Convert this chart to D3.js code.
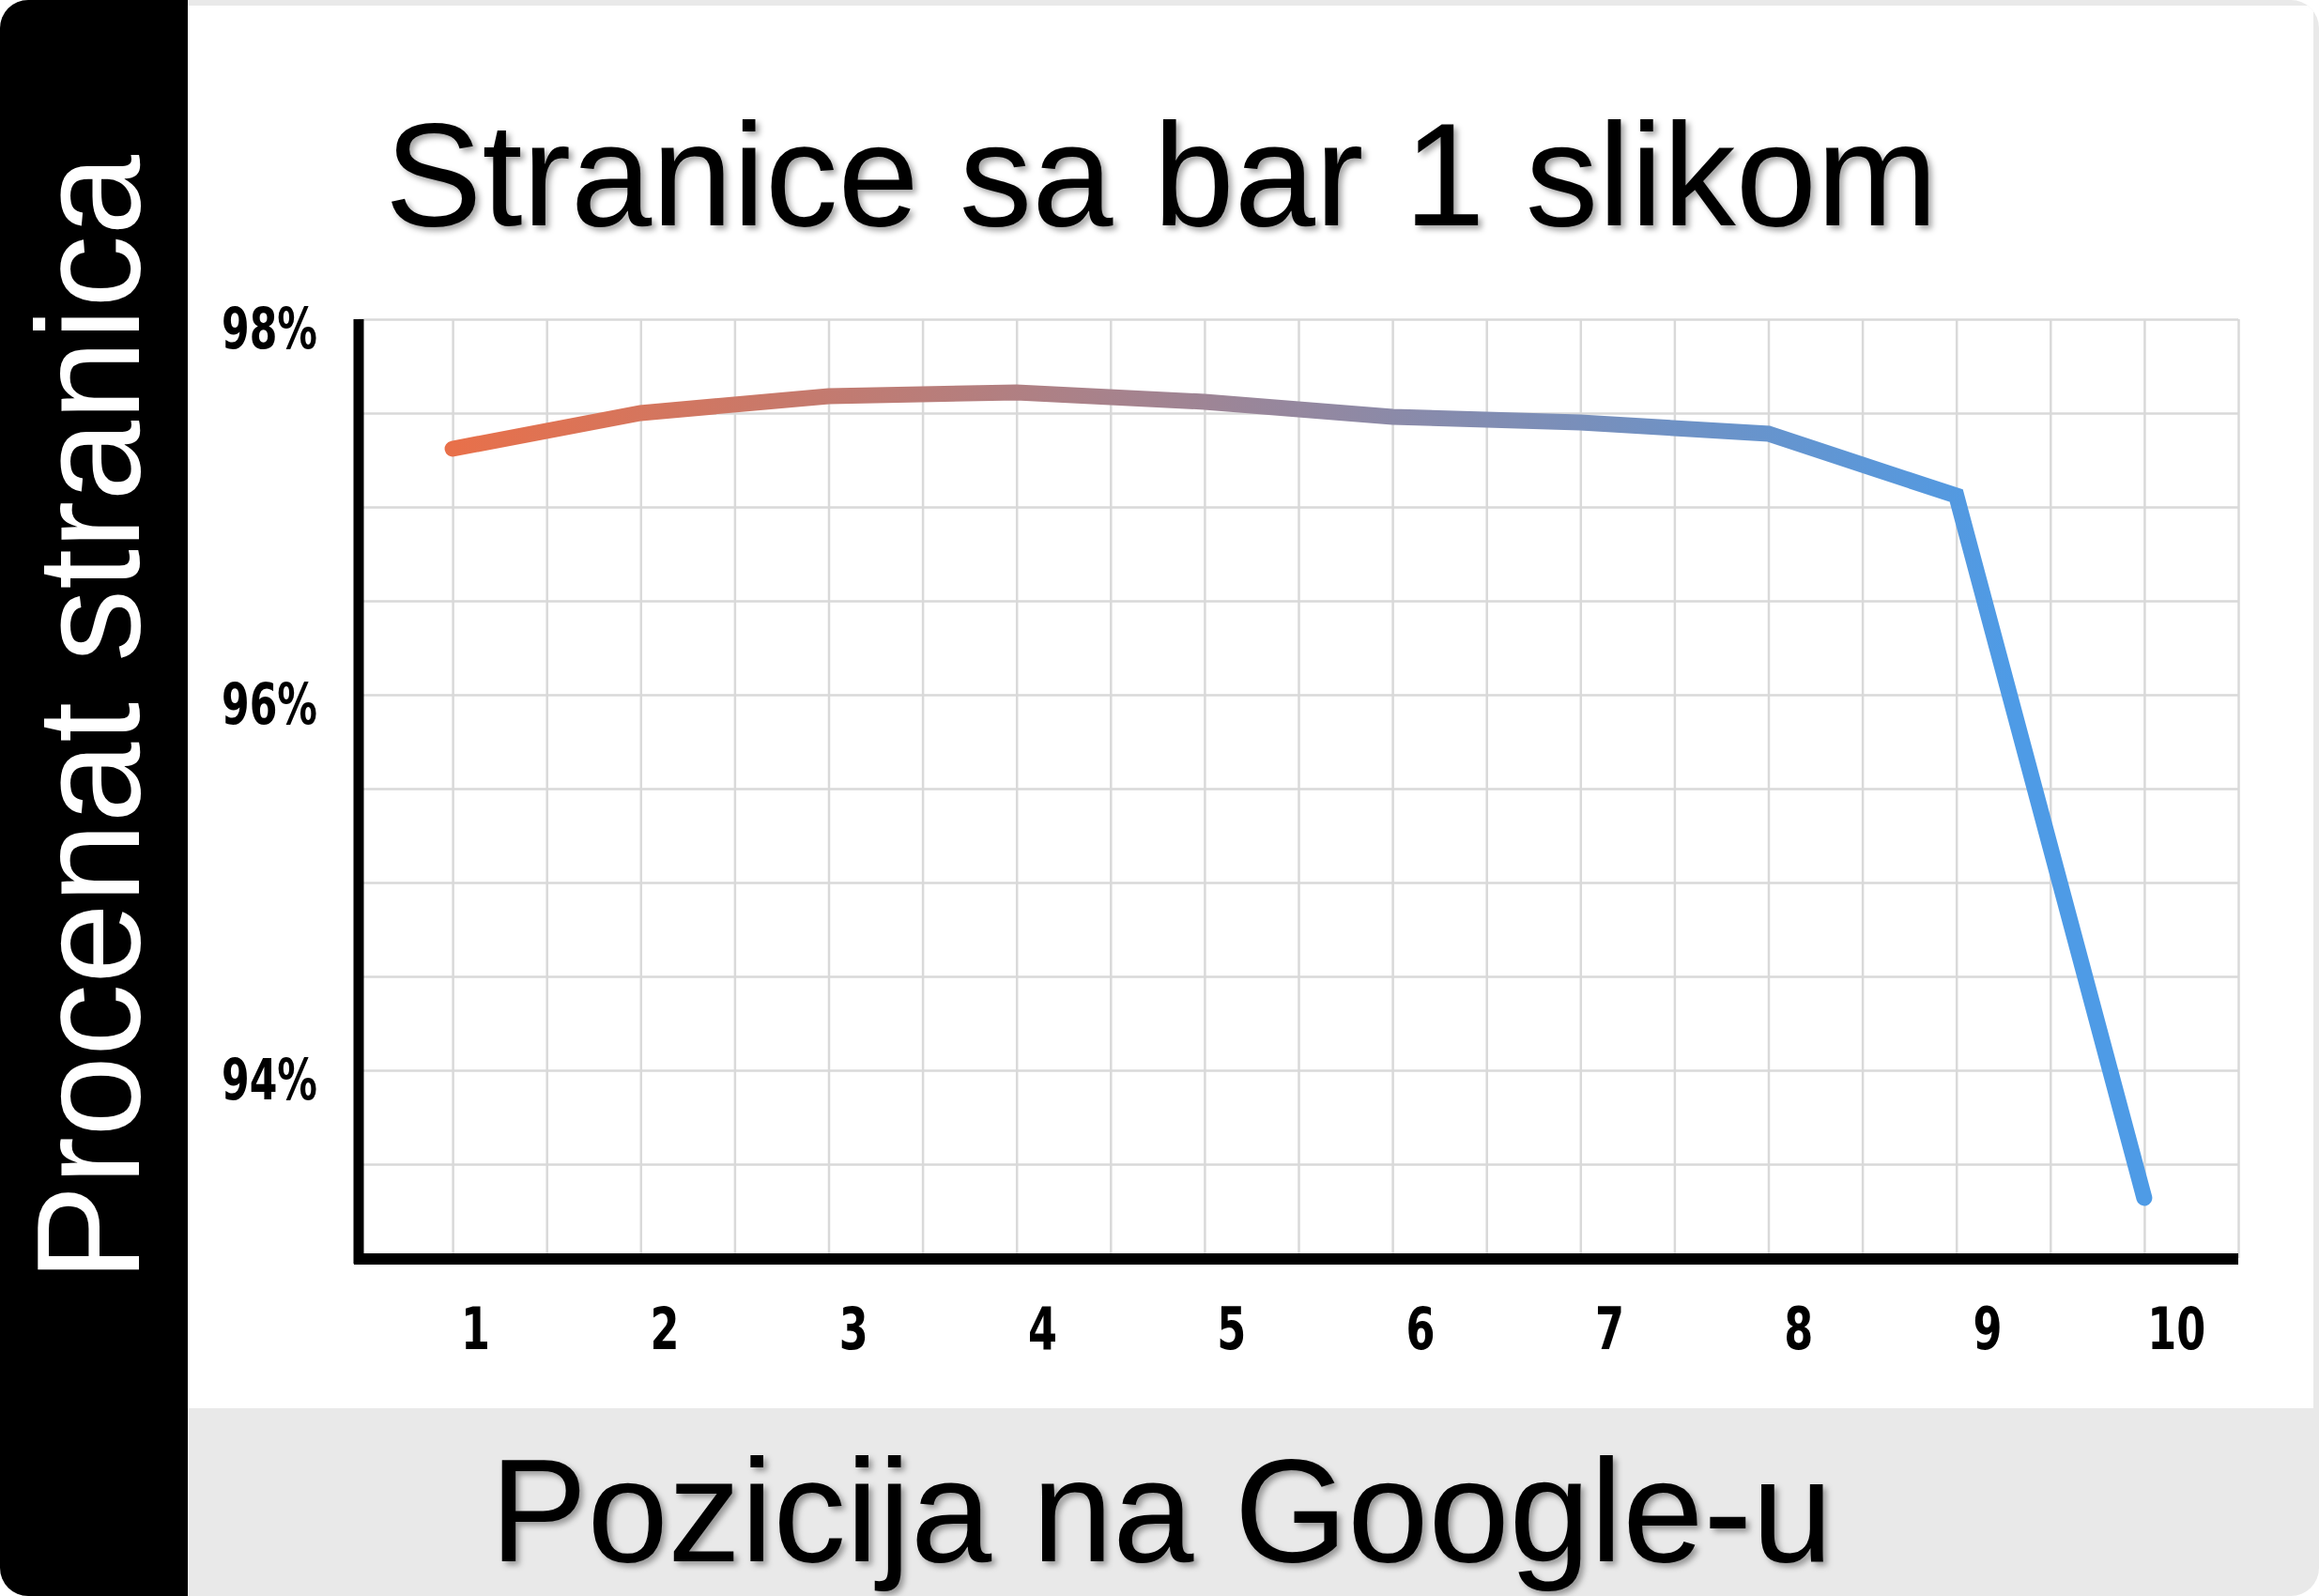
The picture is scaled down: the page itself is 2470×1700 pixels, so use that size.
<!DOCTYPE html>
<html>
<head>
<meta charset="utf-8">
<script src="https://cdn.jsdelivr.net/npm/d3@7"></script>
<style>
  html, body { margin: 0; padding: 0; background: #ffffff; }
  svg { display: block; }
</style>
</head>
<body>
<script>
// ---- data ----
const positions = [1, 2, 3, 4, 5, 6, 7, 8, 9, 10];
const percentValues = [97.31, 97.50, 97.59, 97.61, 97.56, 97.48, 97.45, 97.39, 97.06, 93.32];
const yTickValues = [94, 96, 98];
const xTickLabels = ["1", "2", "3", "4", "5", "6", "7", "8", "9", "10"];
const chartTitle = "Stranice sa bar 1 slikom";
const xAxisTitle = "Pozicija na Google-u";
const yAxisTitle = "Procenat stranica";

const W = 2470, H = 1700;
const svg = d3.select("body").append("svg").attr("width", W).attr("height", H);
const defs = svg.append("defs");

defs.append("clipPath").attr("id", "frame")
  .append("rect").attr("x", 0).attr("y", 0).attr("width", W).attr("height", H).attr("rx", 30).attr("ry", 30);

const sh = defs.append("filter").attr("id", "shadow").attr("x", "-5%").attr("y", "-20%").attr("width", "110%").attr("height", "140%");
sh.append("feDropShadow").attr("dx", 4).attr("dy", 4).attr("stdDeviation", 3)
  .attr("flood-color", "#000").attr("flood-opacity", 0.35);

const frame = svg.append("g").attr("clip-path", "url(#frame)");
frame.append("rect").attr("x", 0).attr("y", 0).attr("width", W).attr("height", H).attr("fill", "#e9e9e9");
frame.append("rect").attr("x", 200).attr("y", 6).attr("width", 2264).attr("height", 1494).attr("fill", "#ffffff");
frame.append("rect").attr("x", 0).attr("y", 0).attr("width", 200).attr("height", H).attr("fill", "#000000");

// scales
const x = d3.scaleLinear().domain([0.5, 10.5]).range([382, 2384]);
const y = d3.scaleLinear().domain([93, 98]).range([1340, 340]);

// gridlines
const gridX = d3.range(1, 10.51, 0.5);
const gridY = d3.range(93.5, 98.01, 0.5);
const grid = svg.append("g");
grid.append("g")
  .attr("transform", `translate(0,${y(93)})`)
  .call(d3.axisBottom(x).tickValues(gridX).tickSize(-(y(93) - y(98))).tickFormat(""))
  .call(g => g.select(".domain").remove())
  .call(g => g.selectAll("line").attr("stroke", "#d9d9d9").attr("stroke-width", 2.5));
grid.append("g")
  .attr("transform", `translate(${x(0.5)},0)`)
  .call(d3.axisLeft(y).tickValues(gridY).tickSize(-(x(10.5) - x(0.5))).tickFormat(""))
  .call(g => g.select(".domain").remove())
  .call(g => g.selectAll("line").attr("stroke", "#d9d9d9").attr("stroke-width", 2.5));

// gradient line
const grad = defs.append("linearGradient").attr("id", "lineGrad")
  .attr("gradientUnits", "userSpaceOnUse")
  .attr("x1", x(1)).attr("x2", x(9.3)).attr("y1", 0).attr("y2", 0);
grad.append("stop").attr("offset", "0%").attr("stop-color", "#e8704a");
grad.append("stop").attr("offset", "100%").attr("stop-color", "#4e9be6");

const line = d3.line().x((d, i) => x(positions[i])).y(d => y(d));
svg.append("path")
  .datum(percentValues)
  .attr("d", line)
  .attr("fill", "none")
  .attr("stroke", "url(#lineGrad)")
  .attr("stroke-width", 17)
  .attr("stroke-linecap", "round")
  .attr("stroke-linejoin", "miter");

// axes (thick black)
const tickFont = "'Liberation Sans Narrow', 'DejaVu Sans Condensed', 'Liberation Sans', sans-serif";
const yAxis = svg.append("g")
  .attr("transform", `translate(${x(0.5)},0)`)
  .call(d3.axisLeft(y).tickValues(yTickValues).tickSize(0).tickPadding(44).tickFormat(d => d + "%"));
yAxis.select(".domain").remove();
yAxis.selectAll("text")
  .attr("font-family", tickFont).attr("font-weight", 700).attr("font-size", 60)
  .attr("fill", "#000").attr("dy", 30).attr("text-anchor", "end")
  .attr("textLength", 102).attr("lengthAdjust", "spacingAndGlyphs");

const xAxis = svg.append("g")
  .attr("transform", `translate(0,${y(93)})`)
  .call(d3.axisBottom(x).tickValues(positions).tickSize(0).tickPadding(0).tickFormat((d, i) => xTickLabels[i]));
xAxis.select(".domain").remove();
xAxis.selectAll("text")
  .attr("font-family", tickFont).attr("font-weight", 700).attr("font-size", 62)
  .attr("fill", "#000").attr("dy", 0).attr("y", 97)
  .attr("dx", (d, i) => 24 + i * 1.1)
  .attr("textLength", (d, i) => xTickLabels[i].length > 1 ? 62 : 31)
  .attr("lengthAdjust", "spacingAndGlyphs");

svg.append("line")
  .attr("x1", x(0.5)).attr("x2", x(0.5)).attr("y1", y(98)).attr("y2", y(93) + 6)
  .attr("stroke", "#000").attr("stroke-width", 11);
svg.append("line")
  .attr("x1", x(0.5) - 5).attr("x2", x(10.5)).attr("y1", y(93) + 1).attr("y2", y(93) + 1)
  .attr("stroke", "#000").attr("stroke-width", 12);

// titles
svg.append("text")
  .attr("x", 410).attr("y", 240)
  .attr("font-family", "'Liberation Sans', Arial, sans-serif")
  .attr("font-size", 155).attr("fill", "#000")
  .attr("filter", "url(#shadow)")
  .text(chartTitle);

svg.append("text")
  .attr("x", 522).attr("y", 1663)
  .attr("font-family", "'Liberation Sans', Arial, sans-serif")
  .attr("font-size", 155).attr("fill", "#000")
  .attr("filter", "url(#shadow)")
  .text(xAxisTitle);

svg.append("text")
  .attr("transform", "translate(148,1365) rotate(-90)")
  .attr("x", 0).attr("y", 0)
  .attr("font-family", "'Liberation Sans', Arial, sans-serif")
  .attr("font-size", 155).attr("fill", "#fff")
  .attr("textLength", 1200).attr("lengthAdjust", "spacingAndGlyphs")
  .text(yAxisTitle);
</script>
</body>
</html>
